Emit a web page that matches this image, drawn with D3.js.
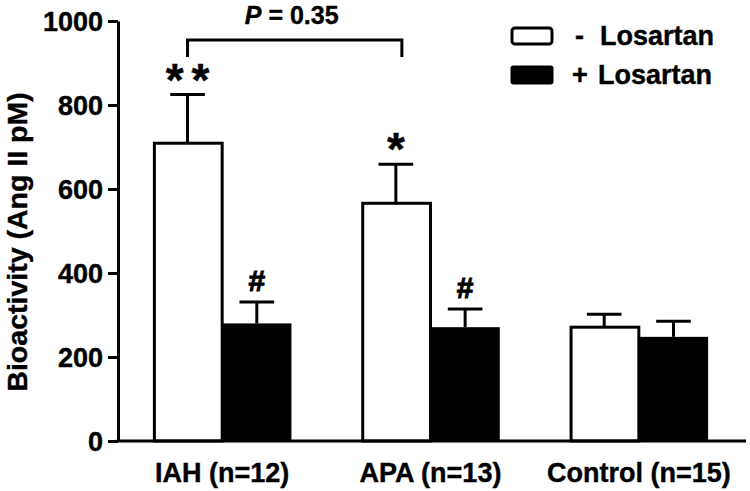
<!DOCTYPE html>
<html><head><meta charset="utf-8">
<script src="https://cdn.jsdelivr.net/npm/d3@7"></script>
<style>body{margin:0;background:#fff}svg{display:block}text{font-family:"Liberation Sans",Arial,sans-serif;font-weight:bold;fill:#000;stroke:#000;stroke-width:0.4px}</style>
</head><body>
<svg id="c" width="750" height="491"></svg>
<script>
const groups = ["IAH (n=12)", "APA (n=13)", "Control (n=15)"];
const seriesNames = ["-  Losartan", "+ Losartan"];
const minusLosartan = [709, 566, 271];
const minusLosartanErr = [116, 93, 31];
const plusLosartan = [280, 271, 248];
const plusLosartanErr = [51, 43, 37];
const minusMarks = ["**", "*", ""];
const plusMarks = ["#", "#", ""];
const yTicks = [0, 200, 400, 600, 800, 1000];
const pLabel = "P = 0.35";
const bracketVals = [955, 914];

const svg = d3.select("#c");
const x = d3.scaleBand().domain(groups).range([118, 743]).paddingInner(0.335).paddingOuter(0.1675);
const y = d3.scaleLinear().domain([0, 1000]).range([441, 21]);
const bw = x.bandwidth() / 2;

// y axis
const yAxis = svg.append("g").attr("transform", "translate(118,0)")
  .call(d3.axisLeft(y).tickValues(yTicks).tickFormat(d3.format("d")).tickSize(10).tickSizeOuter(0).tickPadding(5));
yAxis.select(".domain").attr("stroke-width", 3).attr("stroke", "#000");
yAxis.selectAll(".tick line").attr("stroke-width", 3).attr("stroke", "#000");
yAxis.selectAll(".tick text").style("font-size", "27px").attr("dy", "0.36em").style("fill", "#000");

// y title
svg.append("text").attr("transform", "translate(27,242) rotate(-90)")
  .attr("text-anchor", "middle").style("font-size", "28.5px").text("Bioactivity (Ang II pM)");

const data = groups.map((g, i) => ({g, i}));

// white bars
svg.selectAll("rect.w").data(data).join("rect").attr("class", "w")
  .attr("x", d => x(d.g) + 1.5).attr("y", d => y(minusLosartan[d.i]))
  .attr("width", bw - 1.5).attr("height", d => y(0) - y(minusLosartan[d.i]))
  .attr("fill", "#fff").attr("stroke", "#000").attr("stroke-width", 3);
// black bars
svg.selectAll("rect.b").data(data).join("rect").attr("class", "b")
  .attr("x", d => x(d.g) + bw).attr("y", d => y(plusLosartan[d.i]))
  .attr("width", bw).attr("height", d => y(0) - y(plusLosartan[d.i]))
  .attr("fill", "#000");

// error bars
function err(vals, errs, off) {
  data.forEach(d => {
    const cx = x(d.g) + off + bw / 2;
    const top = y(vals[d.i] + errs[d.i]);
    svg.append("line").attr("x1", cx).attr("x2", cx).attr("y1", y(vals[d.i])).attr("y2", top)
      .attr("stroke", "#000").attr("stroke-width", 3);
    svg.append("line").attr("x1", cx - bw / 4).attr("x2", cx + bw / 4).attr("y1", top).attr("y2", top)
      .attr("stroke", "#000").attr("stroke-width", 3);
  });
}
err(minusLosartan, minusLosartanErr, 0);
err(plusLosartan, plusLosartanErr, bw);

// x axis
svg.append("line").attr("x1", 116.5).attr("x2", 746).attr("y1", y(0)).attr("y2", y(0))
  .attr("stroke", "#000").attr("stroke-width", 3);
svg.selectAll("text.xl").data(groups).join("text").attr("class", "xl")
  .attr("x", d => x(d) + x.bandwidth() / 2).attr("y", 482)
  .attr("text-anchor", "middle").style("font-size", "27px").text(d => d);

// significance marks
svg.selectAll("text.sm").data(data).join("text").attr("class", "sm")
  .attr("x", d => x(d.g) + bw / 2).attr("dx", 4).attr("y", d => y(minusLosartan[d.i] + minusLosartanErr[d.i]) + 1)
  .attr("text-anchor", "middle").style("font-size", "46px")
  .style("letter-spacing", "8px").text(d => minusMarks[d.i]);
svg.selectAll("text.sp").data(data).join("text").attr("class", "sp")
  .attr("x", d => x(d.g) + bw * 1.5).attr("y", d => y(plusLosartan[d.i] + plusLosartanErr[d.i]) - 11)
  .attr("text-anchor", "middle").style("font-size", "30px").style("stroke-width", "1px").text(d => plusMarks[d.i]);

// bracket
const bx1 = x(groups[0]) + bw / 2, bx2 = x(groups[1]) + bw / 2 + 6;
svg.append("path").attr("d", `M${bx1},${y(bracketVals[1])}V${y(bracketVals[0])}H${bx2}V${y(bracketVals[1])}`)
  .attr("fill", "none").attr("stroke", "#000").attr("stroke-width", 3);
const pt = svg.append("text").attr("x", (bx1 + bx2) / 2 - 3).attr("y", 23.5).attr("text-anchor", "middle").style("font-size", "25px");
pt.append("tspan").style("font-style", "italic").text(pLabel.slice(0, 1));
pt.append("tspan").text(pLabel.slice(1));

// legend
const lg = svg.append("g");
lg.append("rect").attr("x", 512).attr("y", 28).attr("width", 40).attr("height", 16).attr("rx", 3)
  .attr("fill", "#fff").attr("stroke", "#000").attr("stroke-width", 3);
lg.append("rect").attr("x", 510.5).attr("y", 65.5).attr("width", 43).attr("height", 19).attr("rx", 3)
  .attr("fill", "#000");
lg.append("text").attr("x", 575).attr("y", 45).style("font-size", "27px").text(seriesNames[0].slice(0, 1));
lg.append("text").attr("x", 600).attr("y", 45).style("font-size", "27px").text(seriesNames[0].slice(3));
lg.append("text").attr("x", 572).attr("y", 84).style("font-size", "27px").text(seriesNames[1].slice(0, 1));
lg.append("text").attr("x", 598).attr("y", 84).style("font-size", "27px").text(seriesNames[1].slice(2));
</script>
</body></html>
